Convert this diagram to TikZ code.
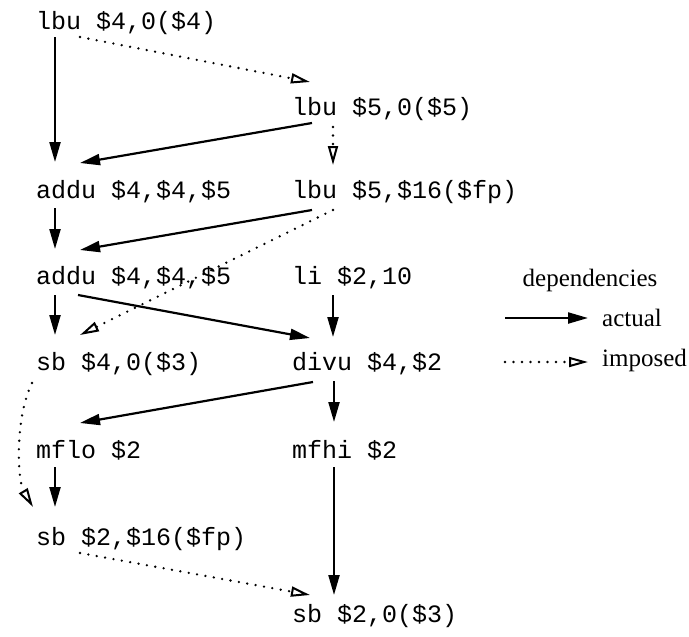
\documentclass[tikz,border=0pt]{standalone}
\usepackage{fontspec}
\setmainfont{Liberation Serif}
\newfontfamily\codefont{Liberation Mono}
\usetikzlibrary{arrows.meta}
\begin{document}
\begin{tikzpicture}[x=1pt,y=1pt,
  instr/.style={anchor=base west,inner sep=0pt,font=\codefont\fontsize{25}{30}\selectfont,
                text height=0.75em,text depth=0.25em},
  legtext/.style={inner sep=0pt,font=\fontsize{25}{30}\selectfont},
  actual/.style={line width=2.2pt,-{Triangle[length=20pt,width=11pt]}},
  imposed/.style={line width=2.6pt,line cap=round,dash pattern=on 0pt off 8.5pt,
                  -{Triangle[open,length=19pt,width=10pt,line width=2pt,line cap=butt]}},
]
\useasboundingbox (0,0) rectangle (689,-637);

% instruction nodes
\node[instr] (a) at (36,-29)  {lbu \$4,0(\$4)};
\node[instr] (b) at (292,-115) {lbu \$5,0(\$5)};
\node[instr] (c) at (36,-198) {addu \$4,\$4,\$5};
\node[instr] (d) at (292,-198) {lbu \$5,\$16(\$fp)};
\node[instr] (e) at (36,-284) {addu \$4,\$4,\$5};
\node[instr] (f) at (292,-284) {li \$2,10};
\node[instr] (g) at (36,-370) {sb \$4,0(\$3)};
\node[instr] (h) at (292,-370) {divu \$4,\$2};
\node[instr] (i) at (36,-458) {mflo \$2};
\node[instr] (j) at (292,-458) {mfhi \$2};
\node[instr] (k) at (36,-545) {sb \$2,\$16(\$fp)};
\node[instr] (l) at (292,-622) {sb \$2,0(\$3)};

% actual dependencies
\draw[actual] ([shift={(19,-8)}]a.base west) -- ([shift={(19,36)}]c.base west);
\draw[actual] ([shift={(20,-8)}]b.base west) -- ([shift={(44,35)}]c.base west);
\draw[actual] ([shift={(19,-10)}]c.base west) -- ([shift={(19,35)}]e.base west);
\draw[actual] ([shift={(20,-12)}]d.base west) -- ([shift={(44,34)}]e.base west);
\draw[actual] ([shift={(42,-11)}]e.base west) -- ([shift={(18,32)}]h.base west);
\draw[actual] ([shift={(19,-11)}]e.base west) -- ([shift={(19,35)}]g.base west);
\draw[actual] ([shift={(41,-11)}]f.base west) -- ([shift={(41,33)}]h.base west);
\draw[actual] ([shift={(21,-12)}]h.base west) -- ([shift={(44,35)}]i.base west);
\draw[actual] ([shift={(42,-11)}]h.base west) -- ([shift={(42,36)}]j.base west);
\draw[actual] ([shift={(19,-9)}]i.base west) -- ([shift={(19,38)}]k.base west);
\draw[actual] ([shift={(42,-9)}]j.base west) -- ([shift={(42,27)}]l.base west);

% imposed dependencies
\draw[imposed] ([shift={(44,-8)}]a.base west) -- ([shift={(18,33)}]b.base west);
\draw[imposed] ([shift={(41,-12)}]b.base west) -- ([shift={(41,33)}]d.base west);
\draw[imposed] ([shift={(41,-12)}]d.base west) -- ([shift={(44,35)}]g.base west);
\draw[imposed] ([shift={(-4,-13)}]g.base west) .. controls +(-18,-37) and +(-15,25) .. ([shift={(-3,38)}]k.base west);
\draw[imposed] ([shift={(44,-8)}]k.base west) -- ([shift={(18,27)}]l.base west);

% legend
\node[legtext] (legtitle) at (590,-280) {dependencies};
\node[legtext,anchor=west] (legact) at (602,-318) {actual};
\node[legtext,anchor=west] (legimp) at (602,-360) {imposed};
\coordinate (actS) at (505,-318);
\coordinate (impS) at (505,-362);
\draw[actual] (actS) -- ([xshift=-14pt]legact.west);
\draw[imposed] (impS) -- ([shift={(-14pt,-2pt)}]legimp.west);
\end{tikzpicture}
\end{document}
